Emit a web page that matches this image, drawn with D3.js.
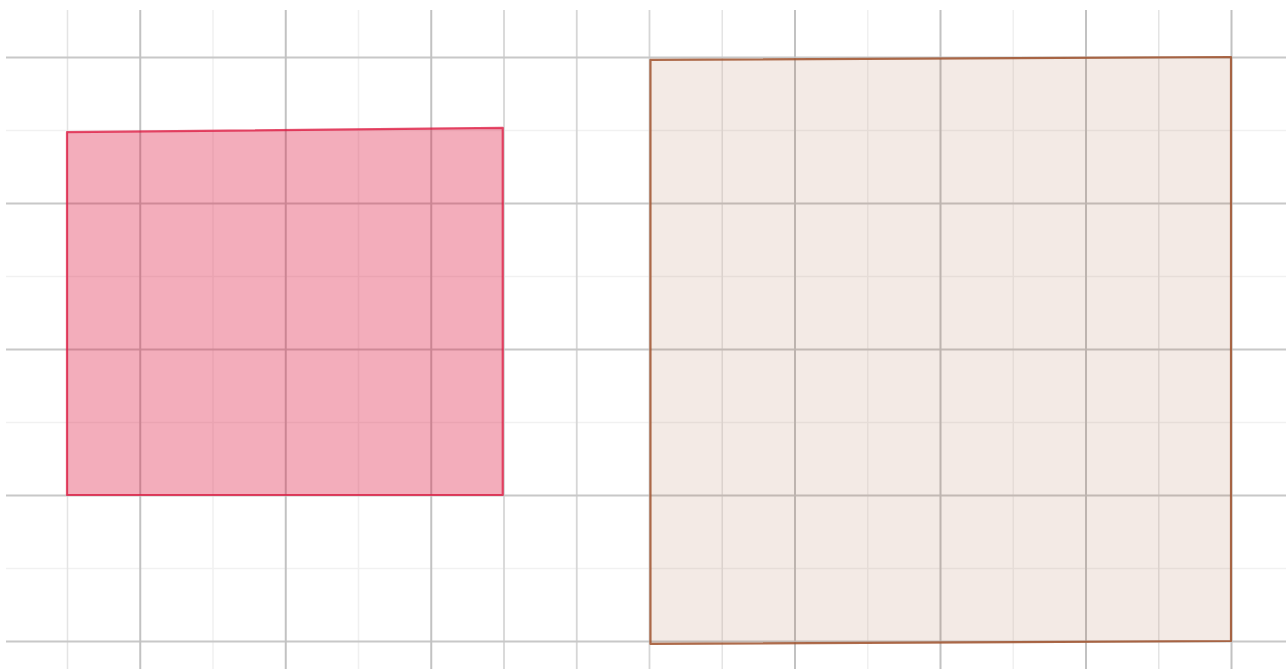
<!DOCTYPE html>
<html>
<head>
<meta charset="utf-8">
<script src="https://cdn.jsdelivr.net/npm/d3@7"></script>
<style>
  html, body { margin: 0; padding: 0; background: #fff; }
  .grid .domain { display: none; }
</style>
</head>
<body>
<div id="chart"></div>
<script>
// grid tick values (in grid units)
const xMajor = [1, 3, 5, 10, 12, 14, 16],
  xMid = [6, 7, 8],
  xLight = [0, 9, 15],
  xFaint = [2, 4, 11, 13];
const yMajor = [0, 2, 4, 6, 8],
  yMinor = [1, 3, 5, 7];

// shapes: corner coordinates in grid units
const pinkX = [0, 5.99, 5.99, 0],
  pinkY = [2, 2, 7.03, 6.97];
const brownX = [8.02, 16, 16, 8.02],
  brownY = [-0.04, 0, 8, 7.96];

const width = 1286,
  height = 669;

const x = d3.scaleLinear().domain([0, 16]).range([67, 1231]);
const y = d3.scaleLinear().domain([0, 8]).range([641, 57]);

const svg = d3.select("#chart").append("svg")
  .attr("width", width)
  .attr("height", height)
  .style("display", "block");

// vertical grid lines via bottom axes
const vGrid = function (vals, color, w) {
  svg.append("g")
    .attr("class", "grid")
    .attr("transform", `translate(0,${height})`)
    .call(d3.axisBottom(x).tickValues(vals).tickSize(-(height - 10)).tickFormat(""))
    .call(g => g.selectAll(".tick line").attr("stroke", color).attr("stroke-width", w));
};

// horizontal grid lines via left axes
const hGrid = function (vals, color, w) {
  svg.append("g")
    .attr("class", "grid")
    .attr("transform", `translate(6,0)`)
    .call(d3.axisLeft(y).tickValues(vals).tickSize(-(width - 6)).tickFormat(""))
    .call(g => g.selectAll(".tick line").attr("stroke", color).attr("stroke-width", w));
};

hGrid(yMinor, "#f1f1f1", 1.5);
vGrid(xFaint, "#f0f0f0", 1.5);
vGrid(xLight, "#e4e4e4", 1.5);
vGrid(xMid, "#d6d6d6", 1.8);
hGrid(yMajor, "#c8c8c8", 2);
vGrid(xMajor, "#c2c2c2", 2);

const line = d3.line().x(d => x(d[0])).y(d => y(d[1]));

const shapes = [
  { pts: d3.zip(pinkX, pinkY), stroke: "#dc143c", fill: "#dc143c", fo: 0.35, so: 0.75 },
  { pts: d3.zip(brownX, brownY), stroke: "#a0522d", fill: "#a0522d", fo: 0.12, so: 0.85 }
];

svg.append("g")
  .selectAll("path")
  .data(shapes)
  .join("path")
  .attr("d", d => line(d.pts) + "Z")
  .attr("fill", d => d.fill)
  .attr("fill-opacity", d => d.fo)
  .attr("stroke", d => d.stroke)
  .attr("stroke-opacity", d => d.so)
  .attr("stroke-width", 2.2)
  .attr("stroke-linejoin", "round");
</script>
</body>
</html>
